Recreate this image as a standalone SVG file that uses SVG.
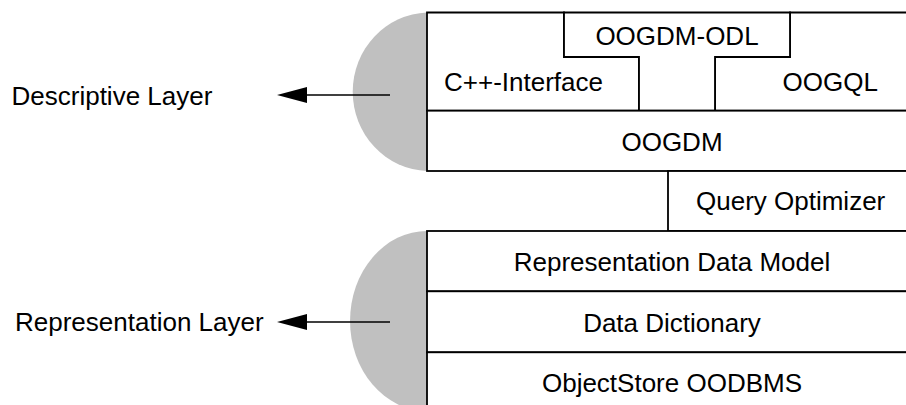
<svg xmlns="http://www.w3.org/2000/svg" width="906" height="405" viewBox="0 0 906 405">
  <style>
    .lbl { font-family: "Liberation Sans", Arial, Helvetica, sans-serif; font-size: 26px; fill: #000; }
    .mid { text-anchor: middle; }
    .cell { fill: #fff; stroke: #000; stroke-width: 1.8; stroke-linejoin: miter; }
    .half { fill: #c0c0c0; stroke: none; }
    .conn { stroke: #000; stroke-width: 1.5; fill: none; }
  </style>
  <defs>
    <marker id="head" viewBox="0 0 30 16" refX="7" refY="8" markerWidth="30" markerHeight="16" markerUnits="userSpaceOnUse" orient="auto">
      <path d="M0,0 L30,8 L0,16 z" fill="#000"/>
    </marker>
  </defs>

  <rect width="906" height="405" fill="#fff"/>

  <!-- layer labels with their grey half-discs -->
  <g id="descriptive-layer">
    <path class="half" d="M427,12.5 A77,79.3 0 0 0 427,171 Z"/>
    <text class="lbl" x="11.5" y="104.5">Descriptive Layer</text>
  </g>
  <g id="representation-layer">
    <path class="half" d="M427,231 A77,90 0 0 0 427,411 Z"/>
    <text class="lbl" x="15" y="331">Representation Layer</text>
  </g>

  <!-- descriptive layer stack -->
  <g id="cpp-interface">
    <path class="cell" d="M427,12.5 H564 V57 H639 V110.7 H427 Z"/>
    <text class="lbl" x="444" y="91">C++-Interface</text>
  </g>
  <g id="oogql">
    <path class="cell" d="M790,12.5 H916 V110.7 H715 V57 H790 Z"/>
    <text class="lbl" x="782.5" y="91">OOGQL</text>
  </g>
  <g id="oogdm-odl">
    <path class="cell" d="M564,12.5 H790 V57 H715 V110.7 H639 V57 H564 Z"/>
    <text class="lbl mid" x="677" y="45">OOGDM-ODL</text>
  </g>
  <g id="oogdm">
    <rect class="cell" x="427" y="110.7" width="489" height="60.3"/>
    <text class="lbl mid" x="672" y="150.7">OOGDM</text>
  </g>
  <g id="query-optimizer">
    <rect class="cell" x="668" y="171" width="248" height="60"/>
    <text class="lbl" x="696" y="210">Query Optimizer</text>
  </g>

  <!-- representation layer stack -->
  <g id="representation-data-model">
    <rect class="cell" x="427" y="231" width="489" height="60.3"/>
    <text class="lbl mid" x="672" y="271">Representation Data Model</text>
  </g>
  <g id="data-dictionary">
    <rect class="cell" x="427" y="291.3" width="489" height="61"/>
    <text class="lbl mid" x="672" y="332">Data Dictionary</text>
  </g>
  <g id="objectstore-oodbms">
    <rect class="cell" x="427" y="352.3" width="489" height="62"/>
    <text class="lbl mid" x="672" y="392">ObjectStore OODBMS</text>
  </g>

  <!-- arrows from the stacks to their layer labels -->
  <g id="connectors">
    <path class="conn" d="M390,95 H300" marker-end="url(#head)"/>
    <path class="conn" d="M390,322 H300" marker-end="url(#head)"/>
  </g>
</svg>
